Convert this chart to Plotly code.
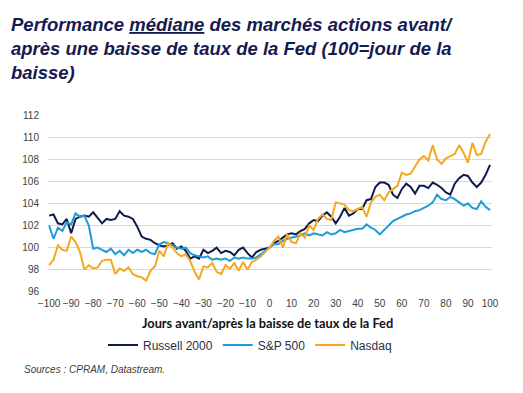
import plotly.graph_objects as go

days = list(range(-100, 101, 2))

russell = [102.9, 103.0, 102.2, 102.1, 102.6, 101.3, 102.6, 102.8, 102.9, 102.8,
           103.2, 102.7, 102.2, 102.6, 102.5, 102.6, 103.3, 102.9, 102.8, 102.6,
           101.9, 101.0, 100.8, 100.7, 100.4, 100.2, 100.1, 100.2, 100.4, 99.9,
           100.1, 99.7, 99.0, 99.2, 99.0, 99.8, 99.5, 99.7, 100.0, 99.5,
           99.7, 99.6, 99.3, 99.8, 100.0, 99.5, 99.1, 99.6, 99.8, 99.9,
           100.0, 100.4, 100.6, 100.9, 101.2, 101.3, 101.2, 101.5, 101.7, 102.2,
           102.5, 102.4, 102.9, 103.2, 102.8, 102.2, 102.8, 103.6, 102.9, 103.1,
           103.5, 103.5, 104.3, 104.4, 105.5, 105.9, 105.9, 105.7, 104.8, 104.5,
           105.3, 105.8, 105.5, 104.9, 105.6, 105.6, 105.4, 105.9, 105.7, 105.4,
           105.0, 104.8, 105.8, 106.3, 106.6, 106.5, 105.9, 105.5, 105.9, 106.6,
           107.5]

sp500 = [102.0, 100.8, 101.8, 101.5, 102.3, 102.1, 103.1, 102.8, 102.9, 102.0,
         99.9, 100.0, 99.8, 99.6, 99.9, 99.4, 99.7, 99.3, 99.8, 99.5,
         99.8, 99.6, 99.8, 99.5, 99.4, 100.3, 100.5, 100.4, 100.2, 100.0,
         99.9, 100.0, 99.5, 99.3, 99.2, 99.1, 99.2, 98.9, 99.0, 98.9,
         99.0, 98.8, 99.1, 99.0, 99.1, 99.0, 99.0, 99.1, 99.4, 99.7,
         100.0, 100.3, 100.3, 100.6, 100.8, 100.9, 101.0, 101.1, 101.3, 101.1,
         101.3, 101.2, 101.1, 101.4, 101.2, 101.3, 101.6, 101.4, 101.5, 101.6,
         101.7, 101.7, 102.1, 101.8, 101.6, 101.2, 101.6, 102.0, 102.4, 102.6,
         102.8, 103.0, 103.1, 103.3, 103.4, 103.6, 103.8, 104.1, 104.8, 104.4,
         104.3, 104.6, 104.4, 104.1, 103.8, 104.0, 103.6, 103.5, 104.2, 103.7,
         103.4]

nasdaq = [98.4, 98.9, 100.2, 99.8, 99.7, 101.0, 100.5, 99.6, 98.0, 98.4,
          98.1, 98.2, 98.8, 98.9, 98.9, 97.6, 98.1, 97.9, 98.2, 97.6,
          97.4, 97.3, 97.0, 97.9, 98.3, 99.7, 99.2, 100.4, 100.0, 99.5,
          99.2, 99.4, 98.8, 97.8, 97.1, 98.3, 98.2, 98.6, 97.8, 97.6,
          98.4, 98.1, 98.6, 97.9, 98.7, 98.0, 98.7, 98.9, 99.2, 99.6,
          100.0, 100.6, 101.0, 100.0, 101.2, 100.5, 100.4, 101.3, 100.9, 102.0,
          101.6, 102.6, 103.0, 102.6, 102.5, 104.1, 104.0, 103.9, 103.4, 103.3,
          103.5, 103.7, 102.8, 104.1, 104.6, 104.8, 104.3, 105.0, 105.3, 105.6,
          106.8, 106.6, 106.7, 107.4, 108.0, 108.3, 107.9, 109.3, 108.0, 107.6,
          108.1, 108.3, 108.5, 109.3, 108.6, 107.7, 109.5, 108.4, 108.5, 109.6,
          110.3]

series = [("Russell 2000", russell, "#0f1b4d"),
          ("S&P 500", sp500, "#1e9bd7"),
          ("Nasdaq", nasdaq, "#f5a81d")]

x_ticks = list(range(-100, 101, 10))
y_ticks = list(range(96, 113, 2))

title_lines = ["Performance <u>médiane</u> des marchés actions avant/",
               "après une baisse de taux de la Fed (100=jour de la",
               "baisse)"]
x_title = "Jours avant/après la baisse de taux de la Fed"
source_text = "Sources : CPRAM, Datastream."

fig = go.Figure()
for name, vals, color in series:
    fig.add_trace(go.Scatter(x=days, y=vals, mode="lines", name=name,
                             line=dict(color=color, width=2)))

fig.update_layout(
    width=515, height=385,
    margin=dict(l=40, r=31, t=107, b=101, autoexpand=False),
    paper_bgcolor="white", plot_bgcolor="white",
    font=dict(family="Liberation Sans, Arial, sans-serif", size=10, color="#404040"),
    showlegend=True,
    legend=dict(orientation="h", x=0.455, xanchor="center", y=-0.30, yanchor="middle",
                font=dict(size=12, color="#2a2f45"), itemwidth=30,
                tracegroupgap=0, bgcolor="rgba(0,0,0,0)"),
    xaxis=dict(range=[-100.5, 100.9], tickvals=x_ticks, showgrid=False,
               zeroline=False, showline=False, ticks="", tickangle=0,
               ticklabelstandoff=4, automargin=False,
               tickfont=dict(size=10, color="#404040")),
    yaxis=dict(range=[95.97, 112.03], tickvals=y_ticks, showgrid=True,
               gridcolor="#d9d9d9", gridwidth=1, zeroline=False, showline=False,
               ticks="", ticklabelstandoff=8, automargin=False,
               tickfont=dict(size=10, color="#404040")),
    annotations=[
        dict(text="<br>".join("<b><i>" + t + "</i></b>" for t in title_lines),
             xref="paper", yref="paper", x=-0.088, y=1.582,
             xanchor="left", yanchor="top", align="left", showarrow=False,
             font=dict(family="Liberation Sans, Arial, sans-serif", size=18.5,
                       color="#151b50")),
        dict(text="<b>" + x_title + "</b>", xref="paper", yref="paper",
             x=0.495, y=-0.175, xanchor="center", yanchor="middle", showarrow=False,
             font=dict(family="Lato, sans-serif", size=12.8, color="#111111")),
        dict(text="<i>" + source_text + "</i>", xref="paper", yref="paper",
             x=-0.0586, y=-0.44, xanchor="left", yanchor="middle", showarrow=False,
             font=dict(family="Liberation Sans, Arial, sans-serif", size=10,
                       color="#404040")),
    ],
)

fig.write_html("out.html")
